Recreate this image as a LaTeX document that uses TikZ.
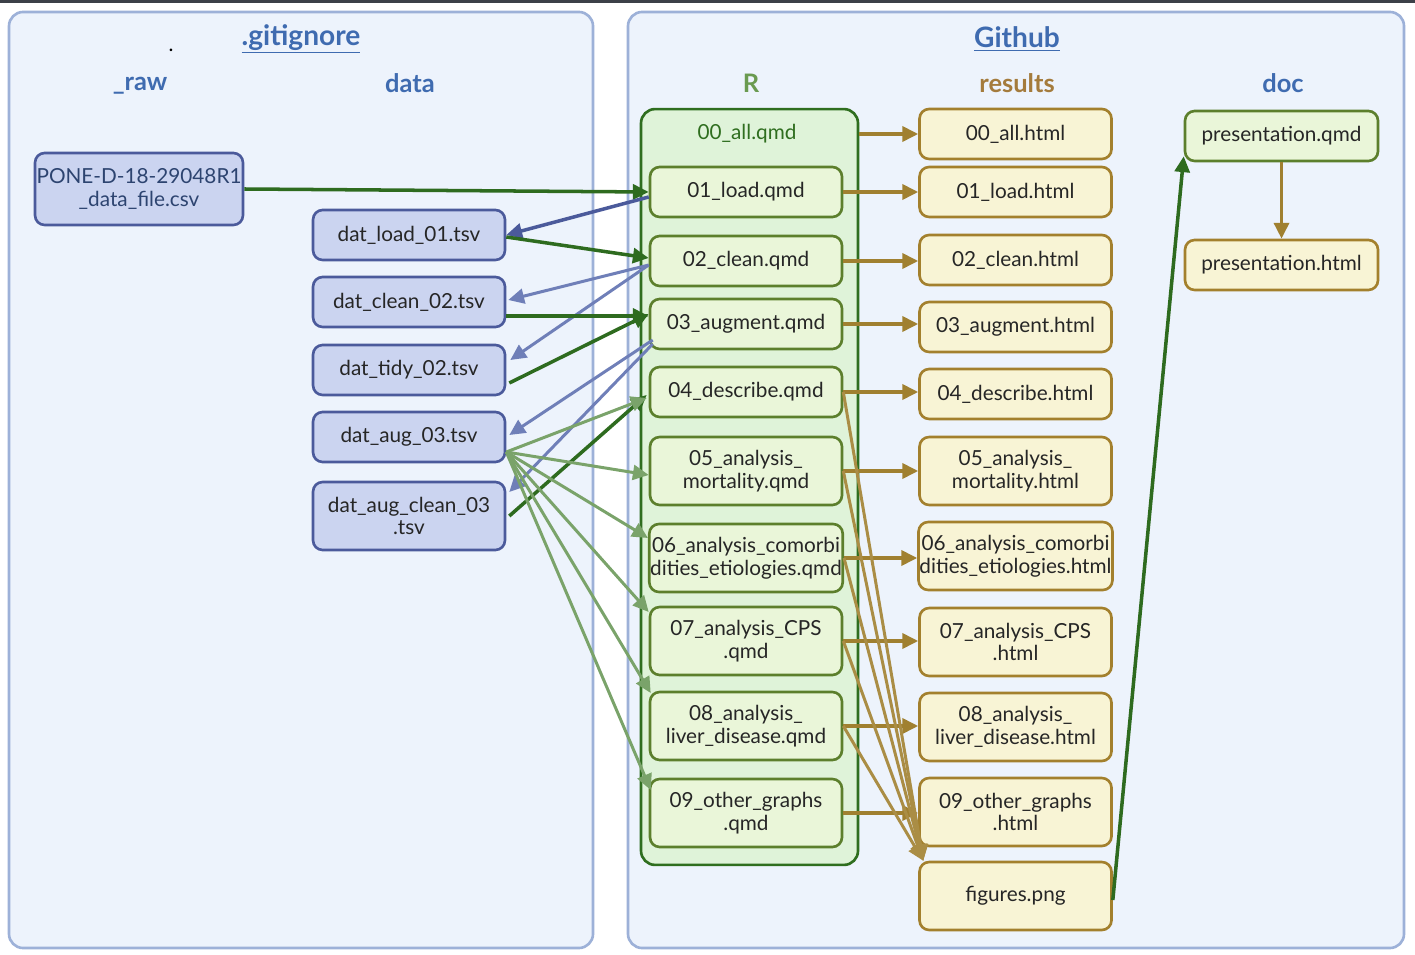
\documentclass[tikz,border=0pt]{standalone}
\usepackage{fontspec}
\setmainfont{Lato}
\usepackage{xcolor}
\usepackage{tikz}
\definecolor{panelfill}{HTML}{EDF3FC}
\definecolor{paneldraw}{HTML}{9DB1D8}
\definecolor{titleblue}{HTML}{3F6BB0}
\definecolor{titlegreen}{HTML}{6A9A50}
\definecolor{titlebrown}{HTML}{A47B3C}
\definecolor{datafill}{HTML}{CBD4F0}
\definecolor{datadraw}{HTML}{4B5A9B}
\definecolor{datatext}{HTML}{2D4470}
\definecolor{qmdfill}{HTML}{EAF6D9}
\definecolor{qmddraw}{HTML}{5C7F2C}
\definecolor{rfill}{HTML}{DFF3D9}
\definecolor{rdraw}{HTML}{2F6E1F}
\definecolor{htmlfill}{HTML}{F8F4D5}
\definecolor{htmldraw}{HTML}{A3802D}
\definecolor{darkgreen}{HTML}{2E6B1F}
\definecolor{lightgreen}{HTML}{7AA36A}
\definecolor{darkblue}{HTML}{4B5A9B}
\definecolor{lightblue}{HTML}{6F7FB8}
\definecolor{arrowbrown}{HTML}{A08030}
\definecolor{strip}{HTML}{3C4048}
\usetikzlibrary{arrows, arrows.meta, positioning, calc}

\tikzset{
  panel/.style={draw=paneldraw, fill=panelfill, line width=1.5pt, rounded corners=8pt},
  filebox/.style={draw, line width=1.5pt, rounded corners=5.5pt, align=center,
    minimum width=3.84cm, minimum height=1cm, inner xsep=0.5pt, text=black!85},
  tall/.style={minimum height=1.36cm},
  datafile/.style={filebox, fill=datafill, draw=datadraw},
  qmdfile/.style={filebox, fill=qmdfill, draw=qmddraw},
  htmlfile/.style={filebox, fill=htmlfill, draw=htmldraw},
  title/.style={font=\fontsize{16}{18}\selectfont\bfseries},
  subtitle/.style={font=\fontsize{14.5}{16}\selectfont\bfseries},
  flow/.style={line width=2pt, -{Triangle[length=9pt,width=8.5pt]}},
  thinflow/.style={line width=1.7pt, -{Triangle[length=9pt,width=8.5pt]}},
}

\begin{document}
\begin{tikzpicture}[x=0.02cm, y=-0.02cm, font=\fontsize{11.8}{13}\selectfont]
\useasboundingbox (0,0) rectangle (1415,955);
\fill[strip] (0,0) rectangle (1415,3);

% the two panels
\draw[panel] (9,12) rectangle (593,948);
\draw[panel] (628,12) rectangle (1404,948);

\node[title, text=titleblue] (gitignore) at (301,39) {\underline{.gitignore}};
\node[inner sep=0pt] (dotmark) at (171,50) {.};
\node[subtitle, text=titleblue] (raw) at (140,86) {\_raw};
\node[subtitle, text=titleblue] (data) at (410,83) {data};
\node[title, text=titleblue] (github) at (1017,39) {\underline{Github}};
\node[subtitle, text=titlegreen] (rdir) at (751,83) {R};
\node[subtitle, text=titlebrown] (results) at (1017,83) {results};
\node[subtitle, text=titleblue] (doc) at (1283,83) {doc};

% data files
\node[datafile, minimum width=4.16cm, minimum height=1.44cm, text=datatext] (pone) at (139,189) {PONE-D-18-29048R1\\\_data\_file.csv};
\node[datafile] (d1) at (409,235) {dat\_load\_01.tsv};
\node[datafile] (d2) at (409,302) {dat\_clean\_02.tsv};
\node[datafile] (d3) at (409,370) {dat\_tidy\_02.tsv};
\node[datafile] (d4) at (409,437) {dat\_aug\_03.tsv};
\node[datafile, tall] (d5) at (409,516) {dat\_aug\_clean\_03\\.tsv};

% R folder
\node[draw=rdraw, fill=rfill, line width=1.5pt, rounded corners=8pt, minimum width=4.34cm, minimum height=15.12cm] (rbox) at (749.5,487) {};
\node[text=rdraw] (r0) at (747,134) {00\_all.qmd};
\node[qmdfile] (r1) at (746,192) {01\_load.qmd};
\node[qmdfile] (r2) at (746,261) {02\_clean.qmd};
\node[qmdfile] (r3) at (746,324) {03\_augment.qmd};
\node[qmdfile] (r4) at (746,392) {04\_describe.qmd};
\node[qmdfile, tall] (r5) at (746,471) {05\_analysis\_\\mortality.qmd};
\node[qmdfile, tall] (r6) at (746,558) {06\_analysis\_comorbi\\dities\_etiologies.qmd};
\node[qmdfile, tall] (r7) at (746,641) {07\_analysis\_CPS\\.qmd};
\node[qmdfile, tall] (r8) at (746,726) {08\_analysis\_\\liver\_disease.qmd};
\node[qmdfile, tall] (r9) at (746,813) {09\_other\_graphs\\.qmd};

% results
\foreach \n/\y/\s/\t in {0/134/filebox/{00\_all.html},
    1/192/filebox/{01\_load.html},
    2/260/filebox/{02\_clean.html},
    3/327/filebox/{03\_augment.html},
    4/394/filebox/{04\_describe.html},
    5/471/tall/{05\_analysis\_\\mortality.html},
    6/556/tall/{06\_analysis\_comorbi\\dities\_etiologies.html},
    7/642/tall/{07\_analysis\_CPS\\.html},
    8/727/tall/{08\_analysis\_\\liver\_disease.html},
    9/812/tall/{09\_other\_graphs\\.html}} {
  \node[htmlfile, \s] (h\n) at (1015.5,\y) {\t};
}
\node[htmlfile, tall] (figs) at (1015.5,896) {figures.png};

% doc
\node[qmdfile, minimum width=3.86cm] (pq) at (1281.5,136) {presentation.qmd};
\node[htmlfile, minimum width=3.86cm] (ph) at (1281.5,265) {presentation.html};

% scripts read and write data
\draw[flow, darkgreen] (pone.east) -- (r1.west);
\draw[flow, darkblue] ($(r1.west)+(0,5)$) -- (d1.east);
\draw[flow, darkgreen] ($(d1.east)+(0,2)$) -- ($(r2.west)+(0,-3)$);
\draw[thinflow, lightblue] ($(r2.west)+(0,4)$) -- ($(d2.east)+(2,-2)$);
\draw[thinflow, lightblue] ($(r2.west)+(0,4)$) -- ($(d3.east)+(4,-10)$);
\draw[flow, darkgreen] ($(d2.east)+(0,14)$) -- ($(r3.west)+(0,-8)$);
\draw[flow, darkgreen] ($(d3.east)+(3,13)$) -- ($(r3.west)+(0,-10)$);
\draw[thinflow, lightblue] ($(r3.west)+(4,16)$) -- ($(d4.east)+(3,-2)$);
\draw[thinflow, lightblue] ($(r3.west)+(4,20)$) -- ($(d5.east)+(3,-24)$);
\draw[flow, darkgreen] ($(d5.east)+(3,0)$) -- ($(r4.west)+(-2,3)$);
\draw[thinflow, lightgreen] ($(d4.east)+(0,15)$) -- ($(r4.west)+(-2,6)$);
\draw[thinflow, lightgreen] ($(d4.east)+(0,15)$) -- ($(r5.west)+(0,4)$);
\draw[thinflow, lightgreen] ($(d4.east)+(0,15)$) -- ($(r6.west)+(0,-20)$);
\draw[thinflow, lightgreen] ($(d4.east)+(0,15)$) -- ($(r7.west)+(0,-29)$);
\draw[thinflow, lightgreen] ($(d4.east)+(0,15)$) -- ($(r8.west)+(2,-33)$);
\draw[thinflow, lightgreen] ($(d4.east)+(0,15)$) -- ($(r9.west)+(2,-23)$);

% scripts render results
\draw[flow, arrowbrown] (rbox.east |- h0.west) -- (h0.west);
\foreach \n in {1,...,9} {
  \draw[flow, arrowbrown] (r\n.east) -- (r\n.east -| h\n.west);
}
\foreach \n in {4,...,8} {
  \draw[thinflow, arrowbrown!90] (r\n.east) -- ($(figs.north west)+(5,0)$);
}
\draw[flow, darkgreen] ($(figs.east)+(0,4)$) -- ($(pq.south west)+(0,-6)$);
\draw[flow, arrowbrown] (pq.south) -- (ph.north);
\end{tikzpicture}
\end{document}
